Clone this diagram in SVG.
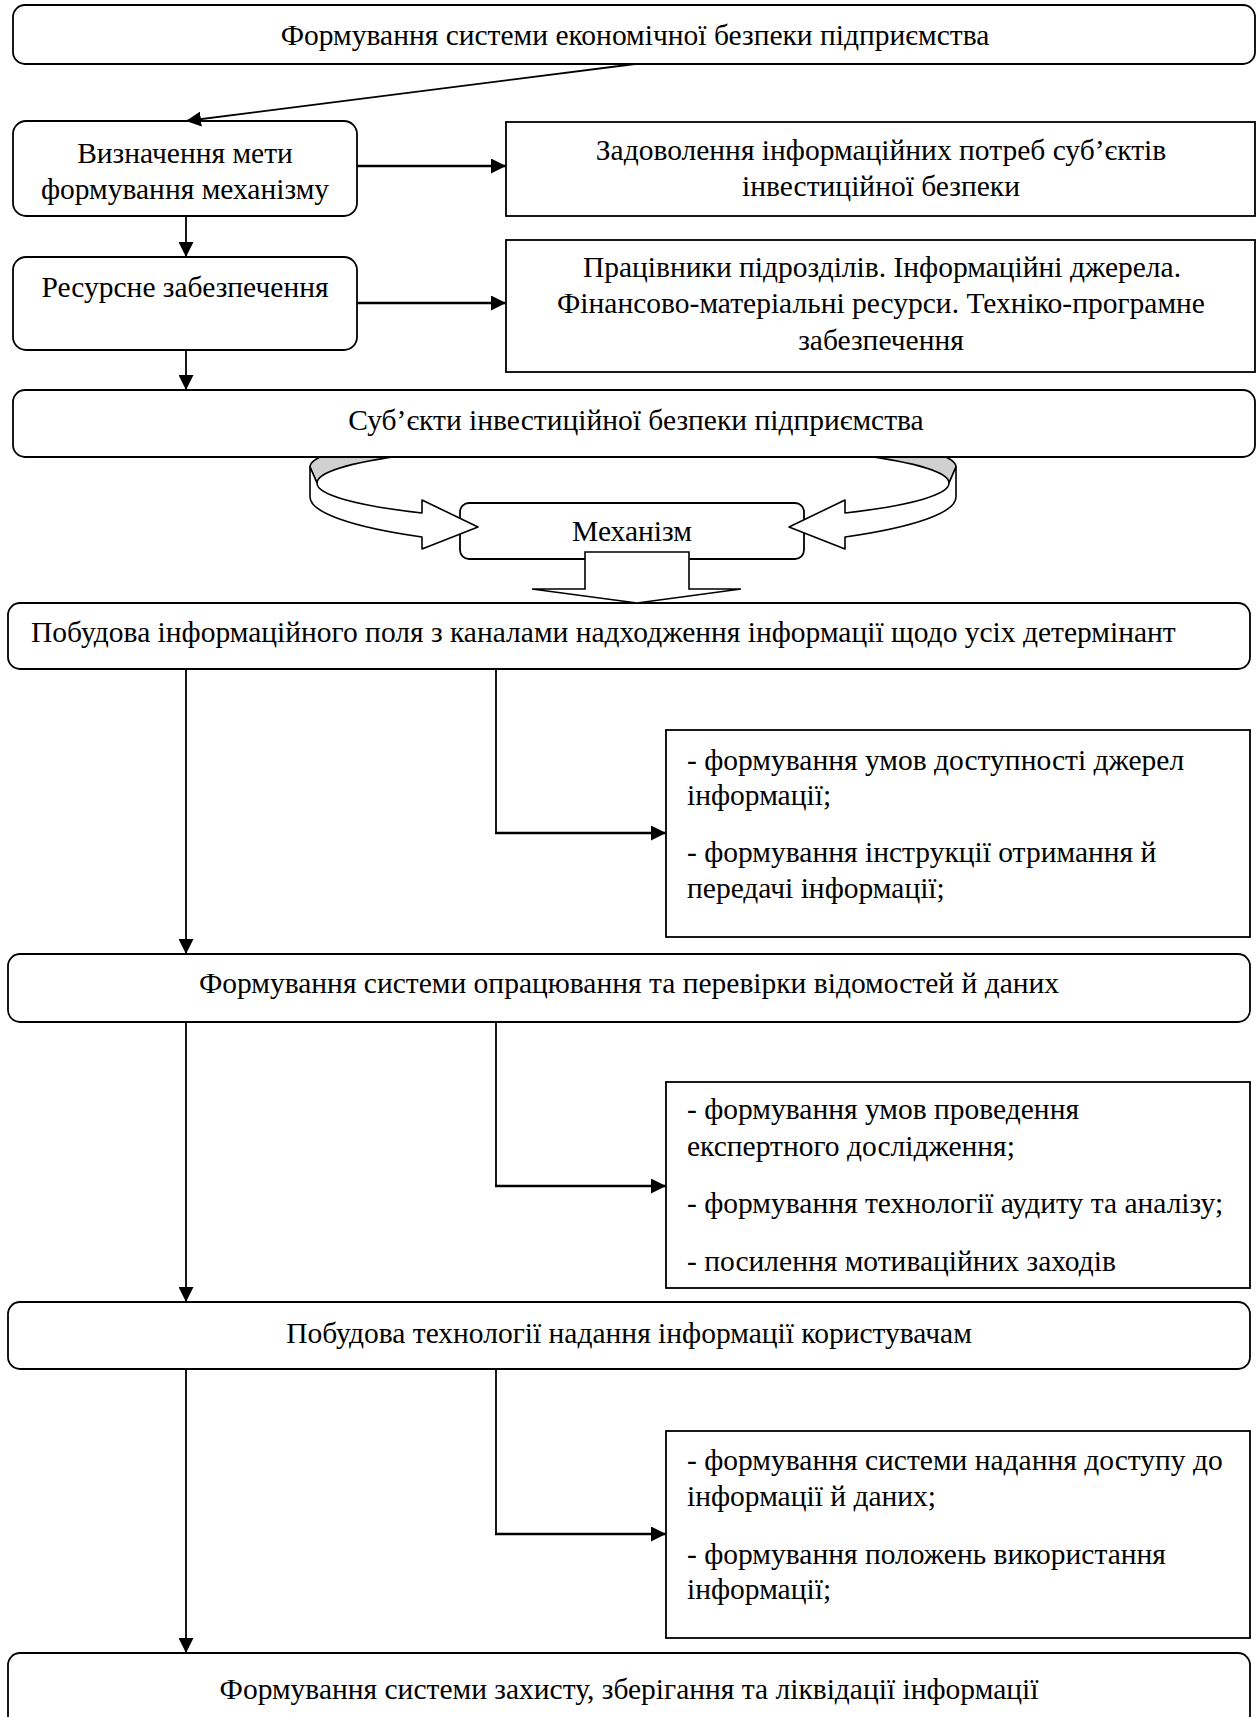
<svg xmlns="http://www.w3.org/2000/svg" width="1259" height="1717" viewBox="0 0 1259 1717">
<style>
.bx{fill:#fff;stroke:#000;stroke-width:1.8}
.t{font-family:"Liberation Serif","Times New Roman",serif;font-size:29.5px;fill:#000}
.c{text-anchor:middle}
.ln{fill:none;stroke:#000;stroke-width:1.8}
.lt{fill:none;stroke:#000;stroke-width:2.6}
.rg{fill:#fff;stroke:#000;stroke-width:1.6;stroke-linejoin:round}
</style>
<defs>
<marker id="ah" markerUnits="userSpaceOnUse" markerWidth="15" markerHeight="15" refX="15" refY="7.5" orient="auto" viewBox="0 0 15 15">
<path d="M0,0 L15,7.5 L0,15 z" fill="#000"/>
</marker>
</defs>
<rect width="1259" height="1717" fill="#fff"/>

<g id="n-title">
<rect class="bx" x="13" y="5" width="1242" height="59" rx="12"/>
<text class="t c" x="635" y="45">Формування системи економічної безпеки підприємства</text>
</g>

<g id="n-goal">
<rect class="bx" x="13" y="121" width="344" height="95" rx="13"/>
<text class="t c" x="185" y="163">Визначення мети</text>
<text class="t c" x="185" y="199">формування механізму</text>
</g>

<g id="n-goal-r">
<rect class="bx" x="506" y="122" width="749" height="94"/>
<text class="t c" x="881" y="160">Задоволення інформаційних потреб суб’єктів</text>
<text class="t c" x="881" y="196">інвестиційної безпеки</text>
</g>

<g id="n-res">
<rect class="bx" x="13" y="257" width="344" height="93" rx="13"/>
<text class="t c" x="185" y="297">Ресурсне забезпечення</text>
</g>

<g id="n-res-r">
<rect class="bx" x="506" y="240" width="749" height="132"/>
<text class="t c" x="882" y="277">Працівники підрозділів. Інформаційні джерела.</text>
<text class="t c" x="881" y="313">Фінансово-матеріальні ресурси. Техніко-програмне</text>
<text class="t c" x="881" y="350">забезпечення</text>
</g>

<g id="n-mech">
<rect class="bx" x="460" y="503" width="344" height="56" rx="9"/>
</g>

<g id="n-ring">
<path d="M317,483 A316,40 0 0 1 949,483 L956,467 A323,40 0 0 0 310,467 Z" fill="#d0d0d0" stroke="#000" stroke-width="1.6"/>
<path class="rg" d="M310,467 L310,497 A323,53 0 0 0 422,537 L422,549 L478,527 L422,500 L422,513 A316,40 0 0 1 317,483 Z"/>
<path class="rg" d="M956,467 L956,497 A323,53 0 0 1 845,537 L845,549 L789,527 L845,500 L845,513 A316,40 0 0 0 949,483 Z"/>
</g>

<g id="n-subj">
<rect class="bx" x="13" y="390" width="1242" height="67" rx="12"/>
<text class="t c" x="636" y="430">Суб’єкти інвестиційної безпеки підприємства</text>
</g>

<g id="n-mech-label">
<text class="t c" x="632" y="541">Механізм</text>
</g>

<g id="n-field">
<rect class="bx" x="8" y="603" width="1242" height="66" rx="12"/>
<text class="t" x="31" y="642">Побудова інформаційного поля з каналами надходження інформації щодо усіх детермінант</text>
</g>

<g id="n-field-r">
<rect class="bx" x="666" y="730" width="584" height="207"/>
<text class="t" x="687" y="770">- формування умов доступності джерел</text>
<text class="t" x="687" y="805">інформації;</text>
<text class="t" x="687" y="862">- формування інструкції отримання й</text>
<text class="t" x="687" y="898">передачі інформації;</text>
</g>

<g id="n-proc">
<rect class="bx" x="8" y="954" width="1242" height="68" rx="12"/>
<text class="t c" x="629" y="993">Формування системи опрацювання та перевірки відомостей й даних</text>
</g>

<g id="n-proc-r">
<rect class="bx" x="666" y="1082" width="584" height="206"/>
<text class="t" x="687" y="1119">- формування умов проведення</text>
<text class="t" x="687" y="1156">експертного дослідження;</text>
<text class="t" x="687" y="1213">- формування технології аудиту та аналізу;</text>
<text class="t" x="687" y="1271">- посилення мотиваційних заходів</text>
</g>

<g id="n-tech">
<rect class="bx" x="8" y="1302" width="1242" height="67" rx="12"/>
<text class="t c" x="629" y="1343">Побудова технології надання інформації користувачам</text>
</g>

<g id="n-tech-r">
<rect class="bx" x="666" y="1431" width="584" height="207"/>
<text class="t" x="687" y="1470">- формування системи надання доступу до</text>
<text class="t" x="687" y="1506">інформації й даних;</text>
<text class="t" x="687" y="1564">- формування положень використання</text>
<text class="t" x="687" y="1599">інформації;</text>
</g>

<g id="n-prot">
<rect class="bx" x="8" y="1653" width="1242" height="80" rx="12"/>
<text class="t c" x="629" y="1699">Формування системи захисту, зберігання та ліквідації інформації</text>
</g>

<g id="n-block-arrow">
<polygon points="585,552 689,552 689,589 741,589 637,603 532,589 585,589" fill="#fff" stroke="#000" stroke-width="1.6" stroke-linejoin="miter"/>
</g>

<g id="connectors">
<line class="ln" x1="635" y1="64" x2="186" y2="121" stroke-width="2.3" marker-end="url(#ah)"/>
<line class="lt" x1="357" y1="166" x2="506" y2="166" marker-end="url(#ah)"/>
<line class="ln" x1="186" y1="216" x2="186" y2="257" marker-end="url(#ah)"/>
<line class="lt" x1="357" y1="303" x2="506" y2="303" marker-end="url(#ah)"/>
<line class="ln" x1="186" y1="350" x2="186" y2="390" marker-end="url(#ah)"/>

<line class="ln" x1="186" y1="669" x2="186" y2="954" marker-end="url(#ah)"/>
<polyline class="ln" points="496,669 496,833"/>
<line class="lt" x1="495" y1="833" x2="666" y2="833" marker-end="url(#ah)"/>

<line class="ln" x1="186" y1="1022" x2="186" y2="1302" marker-end="url(#ah)"/>
<polyline class="ln" points="496,1022 496,1186"/>
<line class="lt" x1="495" y1="1186" x2="666" y2="1186" marker-end="url(#ah)"/>

<line class="ln" x1="186" y1="1369" x2="186" y2="1653" marker-end="url(#ah)"/>
<polyline class="ln" points="496,1369 496,1534"/>
<line class="lt" x1="495" y1="1534" x2="666" y2="1534" marker-end="url(#ah)"/>
</g>
</svg>
